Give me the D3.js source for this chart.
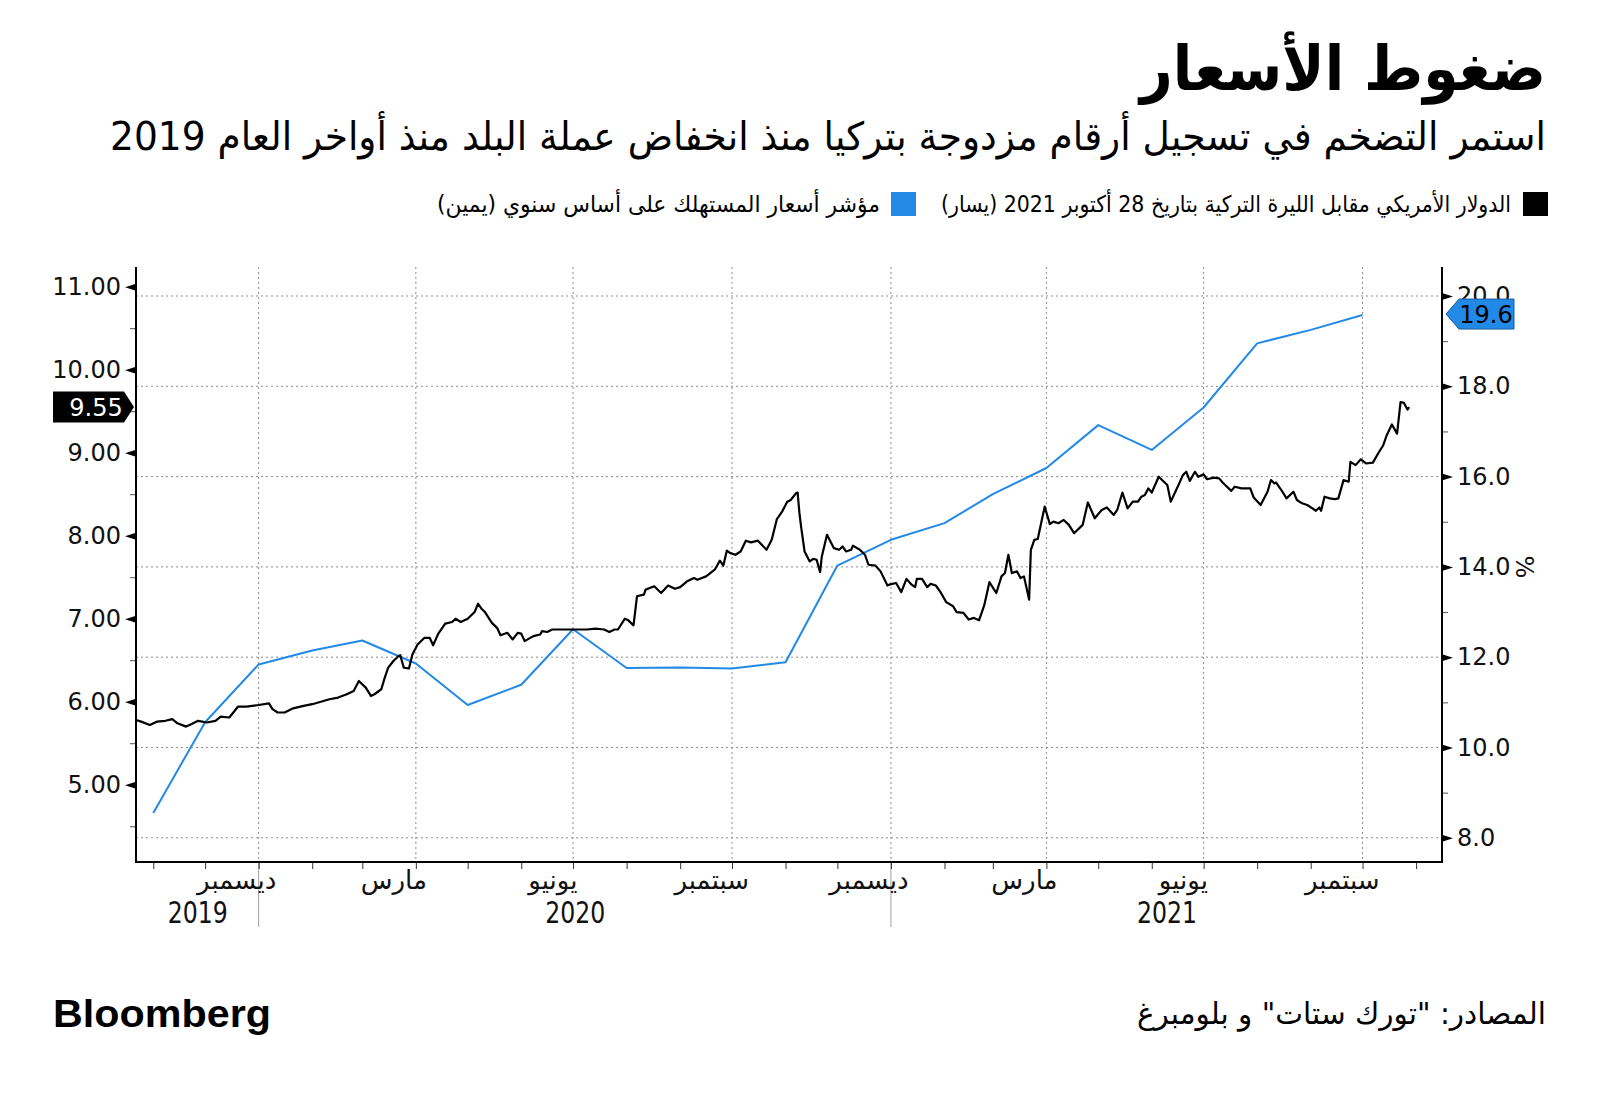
<!DOCTYPE html>
<html><head><meta charset="utf-8">
<script src="https://cdn.jsdelivr.net/npm/d3@7"></script>
<style>
body{margin:0;background:#fff}
svg{display:block}
.ar{font-family:"DejaVu Sans",sans-serif;direction:rtl}
.num{font-family:"DejaVu Sans",sans-serif}
</style>
</head><body>
<svg id="chart" width="1600" height="1094"></svg>
<script>
// ---------- DATA ----------
const titleText = "ضغوط الأسعار";
const subtitleText = "استمر التضخم في تسجيل أرقام مزدوجة بتركيا منذ انخفاض عملة البلد منذ أواخر العام 2019";
const legendLabels = ["الدولار الأمريكي مقابل الليرة التركية بتاريخ 28 أكتوبر 2021 (يسار)", "مؤشر أسعار المستهلك على أساس سنوي (يمين)"];
const sourceText = "المصادر: \"تورك ستات\" و بلومبرغ";
const brandText = "Bloomberg";

const leftTicks = [5, 6, 7, 8, 9, 10, 11];
const leftMinorTicks = [4.5, 5.5, 6.5, 7.5, 8.5, 9.5, 10.5];
const rightTicks = [8, 10, 12, 14, 16, 18, 20];
const rightMinorTicks = [9, 11, 13, 15, 17, 19];
const monthNames = {11: "ديسمبر", 2: "مارس", 5: "يونيو", 8: "سبتمبر"};
const yearLabels = ["2019", "2020", "2021"];
const unitLabel = "%";

// Turkey CPI YoY (%), by month of data
const cpiMonths = ["2019-10","2019-11","2019-12","2020-01","2020-02","2020-03","2020-04","2020-05","2020-06","2020-07","2020-08","2020-09","2020-10","2020-11","2020-12","2021-01","2021-02","2021-03","2021-04","2021-05","2021-06","2021-07","2021-08","2021-09"];
const cpiValues = [8.55,10.56,11.84,12.15,12.37,11.86,10.94,11.39,12.62,11.76,11.77,11.75,11.89,14.03,14.60,14.97,15.61,16.19,17.14,16.59,17.53,18.95,19.25,19.58];
const cpiLast = 19.6;

// USD/TRY
const usdTry2019 = [["2019-10-22",5.78],["2019-10-25",5.76],["2019-10-30",5.72],["2019-11-03",5.76],["2019-11-08",5.77],["2019-11-12",5.79],["2019-11-15",5.74],["2019-11-20",5.70],["2019-11-22",5.72],["2019-11-27",5.77],["2019-12-02",5.75],["2019-12-07",5.77],["2019-12-10",5.82],["2019-12-15",5.81],["2019-12-20",5.94],["2019-12-25",5.94]];
const usdTry2020 = [["2020-01-01",5.96],["2020-01-07",5.98],["2020-01-09",5.91],["2020-01-12",5.87],["2020-01-16",5.87],["2020-01-21",5.92],["2020-01-27",5.95],["2020-02-01",5.97],["2020-02-06",6.00],["2020-02-11",6.03],["2020-02-16",6.05],["2020-02-21",6.09],["2020-02-25",6.13],["2020-02-28",6.25],["2020-03-03",6.17],["2020-03-06",6.07],["2020-03-08",6.09],["2020-03-12",6.15],["2020-03-14",6.29],["2020-03-16",6.41],["2020-03-19",6.49],["2020-03-22",6.55],["2020-03-23",6.56],["2020-03-25",6.41],["2020-03-28",6.40],["2020-03-30",6.57],["2020-04-02",6.69],["2020-04-06",6.77],["2020-04-09",6.77],["2020-04-11",6.68],["2020-04-14",6.82],["2020-04-18",6.94],["2020-04-22",6.96],["2020-04-24",7.00],["2020-04-27",6.96],["2020-05-01",7.00],["2020-05-05",7.08],["2020-05-07",7.18],["2020-05-09",7.12],["2020-05-11",7.08],["2020-05-15",6.95],["2020-05-18",6.89],["2020-05-20",6.80],["2020-05-24",6.83],["2020-05-27",6.75],["2020-05-30",6.83],["2020-06-01",6.82],["2020-06-03",6.73],["2020-06-08",6.79],["2020-06-12",6.81],["2020-06-13",6.85],["2020-06-16",6.84],["2020-06-19",6.87],["2020-06-23",6.87],["2020-07-01",6.87],["2020-07-09",6.87],["2020-07-14",6.88],["2020-07-19",6.87],["2020-07-22",6.84],["2020-07-25",6.87],["2020-07-27",6.87],["2020-07-31",7.00],["2020-08-02",6.98],["2020-08-05",6.92],["2020-08-07",7.27],["2020-08-11",7.29],["2020-08-12",7.35],["2020-08-17",7.39],["2020-08-21",7.31],["2020-08-25",7.40],["2020-08-29",7.36],["2020-09-01",7.38],["2020-09-05",7.45],["2020-09-09",7.49],["2020-09-11",7.47],["2020-09-16",7.51],["2020-09-21",7.59],["2020-09-24",7.70],["2020-09-26",7.64],["2020-09-28",7.82],["2020-09-30",7.79],["2020-10-03",7.77],["2020-10-06",7.81],["2020-10-09",7.94],["2020-10-12",7.92],["2020-10-16",7.94],["2020-10-21",7.83],["2020-10-24",7.95],["2020-10-27",8.20],["2020-10-30",8.29],["2020-11-02",8.41],["2020-11-04",8.43],["2020-11-07",8.51],["2020-11-08",8.52],["2020-11-09",8.28],["2020-11-10",8.11],["2020-11-12",7.81],["2020-11-15",7.69],["2020-11-17",7.72],["2020-11-19",7.71],["2020-11-21",7.56],["2020-11-22",7.75],["2020-11-25",8.01],["2020-11-29",7.85],["2020-12-02",7.83],["2020-12-04",7.87],["2020-12-06",7.81],["2020-12-09",7.83],["2020-12-10",7.88],["2020-12-14",7.83],["2020-12-17",7.77],["2020-12-19",7.65],["2020-12-23",7.64],["2020-12-26",7.57],["2020-12-30",7.40],["2020-12-31",7.41]];
const usdTry2021 = [["2021-01-04",7.43],["2021-01-07",7.32],["2021-01-10",7.48],["2021-01-13",7.41],["2021-01-15",7.38],["2021-01-16",7.48],["2021-01-19",7.48],["2021-01-22",7.38],["2021-01-24",7.42],["2021-01-27",7.40],["2021-01-30",7.31],["2021-02-02",7.20],["2021-02-06",7.15],["2021-02-08",7.08],["2021-02-12",7.07],["2021-02-15",6.99],["2021-02-18",7.01],["2021-02-21",6.98],["2021-02-24",7.16],["2021-02-27",7.44],["2021-03-03",7.31],["2021-03-06",7.51],["2021-03-08",7.55],["2021-03-10",7.77],["2021-03-12",7.55],["2021-03-15",7.57],["2021-03-17",7.49],["2021-03-19",7.51],["2021-03-22",7.23],["2021-03-23",7.83],["2021-03-25",7.95],["2021-03-27",7.96],["2021-03-31",8.35],["2021-04-03",8.14],["2021-04-05",8.17],["2021-04-08",8.15],["2021-04-11",8.19],["2021-04-14",8.13],["2021-04-17",8.03],["2021-04-22",8.13],["2021-04-25",8.40],["2021-04-29",8.21],["2021-05-03",8.31],["2021-05-06",8.34],["2021-05-10",8.25],["2021-05-12",8.31],["2021-05-15",8.52],["2021-05-18",8.33],["2021-05-21",8.41],["2021-05-24",8.41],["2021-05-26",8.47],["2021-05-28",8.49],["2021-05-30",8.57],["2021-06-01",8.52],["2021-06-05",8.71],["2021-06-10",8.61],["2021-06-12",8.41],["2021-06-16",8.59],["2021-06-19",8.73],["2021-06-21",8.77],["2021-06-23",8.66],["2021-06-26",8.77],["2021-06-28",8.71],["2021-07-01",8.74],["2021-07-03",8.68],["2021-07-07",8.70],["2021-07-10",8.69],["2021-07-12",8.64],["2021-07-17",8.54],["2021-07-19",8.59],["2021-07-23",8.57],["2021-07-28",8.57],["2021-07-30",8.46],["2021-08-03",8.37],["2021-08-07",8.53],["2021-08-09",8.67],["2021-08-11",8.63],["2021-08-12",8.64],["2021-08-15",8.55],["2021-08-18",8.45],["2021-08-22",8.53],["2021-08-24",8.43],["2021-08-27",8.39],["2021-08-30",8.37],["2021-09-02",8.33],["2021-09-04",8.30],["2021-09-06",8.34],["2021-09-07",8.30],["2021-09-09",8.47],["2021-09-12",8.45],["2021-09-15",8.44],["2021-09-17",8.45],["2021-09-20",8.67],["2021-09-23",8.65],["2021-09-24",8.89],["2021-09-27",8.85],["2021-09-30",8.92],["2021-10-03",8.87],["2021-10-07",8.88],["2021-10-10",8.99],["2021-10-13",9.09],["2021-10-15",9.21],["2021-10-18",9.34],["2021-10-21",9.23],["2021-10-23",9.61],["2021-10-25",9.60],["2021-10-27",9.52],["2021-10-28",9.55]];
const usdTryLast = 9.55;

// ---------- CHART ----------
const parseDay = d3.timeParse("%Y-%m-%d");
const parseMonth = d3.timeParse("%Y-%m");
const fx = usdTry2019.concat(usdTry2020, usdTry2021).map(([d, v]) => ({date: parseDay(d), value: v}));
const cpi = cpiMonths.map((m, i) => ({date: d3.timeMonth.offset(parseMonth(m), 1), value: cpiValues[i]}));

const L = 136, R = 1442, T = 267, B = 862;
const x = d3.scaleTime().domain([new Date(2019, 9, 22), new Date(2021, 10, 16)]).range([L, R]);
const yL = d3.scaleLinear().domain([4.069, 11.237]).range([B, T]);
const yR = d3.scaleLinear().domain([7.464, 20.642]).range([B, T]);

const svg = d3.select("#chart");
const BLUE = "#2389e6";

// Title / subtitle
svg.append("text").attr("class", "ar").attr("x", 1546).attr("y", 90)
  .attr("text-anchor", "start").attr("font-size", 62).attr("font-weight", "bold")
  .attr("textLength", 406).attr("lengthAdjust", "spacingAndGlyphs").attr("fill", "#000").text(titleText);
svg.append("text").attr("class", "ar").attr("x", 1546).attr("y", 150)
  .attr("text-anchor", "start").attr("font-size", 39)
  .attr("textLength", 1436).attr("lengthAdjust", "spacingAndGlyphs").attr("fill", "#000").text(subtitleText);

// Legend
const legendItems = [
  {sq: 1523, tx: 1511, len: 570, color: "#000", label: legendLabels[0]},
  {sq: 891, tx: 880, len: 443, color: BLUE, label: legendLabels[1]}
];
legendItems.forEach(it => {
  svg.append("rect").attr("x", it.sq).attr("y", 192).attr("width", 25).attr("height", 24).attr("fill", it.color);
  svg.append("text").attr("class", "ar").attr("x", it.tx).attr("y", 212).attr("text-anchor", "start")
    .attr("font-size", 23).attr("textLength", it.len).attr("lengthAdjust", "spacingAndGlyphs")
    .attr("fill", "#000").text(it.label);
});

// Grid
const gGrid = svg.append("g");
gGrid.selectAll("line.h").data(rightTicks).join("line").attr("class", "h")
  .attr("x1", L).attr("x2", R).attr("y1", d => yR(d)).attr("y2", d => yR(d))
  .attr("stroke", "#8c8c8c").attr("stroke-width", 1).attr("stroke-dasharray", "2,3");
const quarterStarts = d3.timeMonth.range(x.domain()[0], x.domain()[1]).filter(d => d.getMonth() % 3 === 0);
gGrid.selectAll("line.v").data(quarterStarts).join("line").attr("class", "v")
  .attr("x1", d => x(d)).attr("x2", d => x(d)).attr("y1", T).attr("y2", B)
  .attr("stroke", "#8c8c8c").attr("stroke-width", 1).attr("stroke-dasharray", "2,3");
const yearStarts = d3.timeYear.range(x.domain()[0], x.domain()[1]);
gGrid.selectAll("line.y").data(yearStarts).join("line").attr("class", "y")
  .attr("x1", d => x(d)).attr("x2", d => x(d)).attr("y1", B).attr("y2", B + 65)
  .attr("stroke", "#a0a0a0").attr("stroke-width", 1);

// Lines
svg.append("path").datum(cpi).attr("fill", "none").attr("stroke", BLUE).attr("stroke-width", 2)
  .attr("stroke-linejoin", "round")
  .attr("d", d3.line().x(d => x(d.date)).y(d => yR(d.value)));
svg.append("path").datum(fx).attr("fill", "none").attr("stroke", "#000").attr("stroke-width", 2.2)
  .attr("stroke-linejoin", "round")
  .attr("d", d3.line().x(d => x(d.date)).y(d => yL(d.value)));

// Left axis
const axL = svg.append("g").attr("transform", `translate(${L},0)`)
  .call(d3.axisLeft(yL).tickValues(leftTicks).tickFormat(d3.format(".2f")).tickSize(0).tickPadding(15));
axL.select(".domain").remove();
axL.selectAll(".tick text").attr("font-family", "DejaVu Sans").attr("font-size", 24).attr("fill", "#111");
axL.selectAll(".tick").append("path").attr("d", "M0,-3.5L-11,0L0,3.5Z").attr("fill", "#000");
const axLm = svg.append("g").attr("transform", `translate(${L},0)`)
  .call(d3.axisLeft(yL).tickValues(leftMinorTicks).tickFormat("").tickSize(6));
axLm.select(".domain").remove();
axLm.selectAll(".tick line").attr("stroke", "#555");

// Right axis
const axR = svg.append("g").attr("transform", `translate(${R},0)`)
  .call(d3.axisRight(yR).tickValues(rightTicks).tickFormat(d3.format(".1f")).tickSize(0).tickPadding(15));
axR.select(".domain").remove();
axR.selectAll(".tick text").attr("font-family", "DejaVu Sans").attr("font-size", 24).attr("fill", "#111");
axR.selectAll(".tick").append("path").attr("d", "M0,-3.5L11,0L0,3.5Z").attr("fill", "#000");
const axRm = svg.append("g").attr("transform", `translate(${R},0)`)
  .call(d3.axisRight(yR).tickValues(rightMinorTicks).tickFormat("").tickSize(6));
axRm.select(".domain").remove();
axRm.selectAll(".tick line").attr("stroke", "#555");

// Bottom axis
const axB = svg.append("g").attr("transform", `translate(0,${B})`)
  .call(d3.axisBottom(x).ticks(d3.timeMonth.every(1)).tickFormat("").tickSize(7));
axB.select(".domain").remove();
axB.selectAll(".tick line").attr("stroke", "#333");

const labelMonths = d3.timeMonth.range(x.domain()[0], x.domain()[1])
  .filter(d => monthNames[d.getMonth()] !== undefined)
  .map(d => new Date(d.getFullYear(), d.getMonth(), 19));
const axBm = svg.append("g").attr("transform", `translate(0,${B})`)
  .call(d3.axisBottom(x).tickValues(labelMonths).tickFormat(d => monthNames[d.getMonth()]).tickSize(0).tickPadding(9));
axBm.select(".domain").remove();
axBm.selectAll(".tick text").attr("font-family", "DejaVu Sans").attr("font-size", 26).attr("fill", "#111");

const [d0, d1] = x.domain();
const yearCenters = yearLabels.map(yl => {
  const y = +yl;
  const a = d3.max([d0, new Date(y, 0, 1)]);
  const b = d3.min([d1, new Date(y + 1, 0, 1)]);
  return new Date((+a + +b) / 2);
});
const axBy = svg.append("g").attr("transform", `translate(0,${B})`)
  .call(d3.axisBottom(x).tickValues(yearCenters).tickFormat((d, i) => yearLabels[i]).tickSize(0).tickPadding(39));
axBy.select(".domain").remove();
axBy.selectAll(".tick text").attr("font-family", "'DejaVu Sans'")
  .attr("font-size", 31).attr("textLength", 60).attr("lengthAdjust", "spacingAndGlyphs").attr("fill", "#111");

// Axis frame lines
svg.append("line").attr("x1", L).attr("x2", L).attr("y1", T).attr("y2", B + 1).attr("stroke", "#000").attr("stroke-width", 2);
svg.append("line").attr("x1", R).attr("x2", R).attr("y1", T).attr("y2", B + 1).attr("stroke", "#000").attr("stroke-width", 2);
svg.append("line").attr("x1", L).attr("x2", R).attr("y1", B).attr("y2", B).attr("stroke", "#000").attr("stroke-width", 2);

// % unit
svg.append("text").attr("transform", `translate(1524,${yR(14)}) rotate(90)`).attr("text-anchor", "middle")
  .attr("dy", "0.35em").attr("font-family", "DejaVu Sans").attr("font-size", 24).attr("fill", "#111").text(unitLabel);

// Last value labels
const yl = yL(usdTryLast);
svg.append("path").attr("d", `M53,${yl - 15.5}H124L134,${yl}L124,${yl + 15.5}H53Z`).attr("fill", "#000");
svg.append("text").attr("x", 96).attr("y", yl).attr("dy", "0.36em").attr("text-anchor", "middle")
  .attr("font-family", "DejaVu Sans").attr("font-size", 24).attr("fill", "#fff").text(d3.format(".2f")(usdTryLast));
const yr = yR(cpiLast);
svg.append("path").attr("d", `M1446,${yr}L1459,${yr - 15}H1514V${yr + 15}H1459Z`)
  .attr("fill", BLUE).attr("stroke", "#1b5c9e").attr("stroke-width", 1);
svg.append("text").attr("x", 1486).attr("y", yr).attr("dy", "0.36em").attr("text-anchor", "middle")
  .attr("font-family", "DejaVu Sans").attr("font-size", 24).attr("fill", "#000").text(d3.format(".1f")(cpiLast));

// Footer
svg.append("text").attr("x", 53).attr("y", 1027).attr("font-family", "'Liberation Sans',Arial,sans-serif")
  .attr("font-weight", "bold").attr("font-size", 39).attr("textLength", 218).attr("lengthAdjust", "spacingAndGlyphs")
  .attr("fill", "#000").text(brandText);
svg.append("text").attr("class", "ar").attr("x", 1546).attr("y", 1024).attr("text-anchor", "start")
  .attr("font-size", 30).attr("textLength", 409).attr("lengthAdjust", "spacingAndGlyphs")
  .attr("fill", "#000").text(sourceText);
</script>
</body></html>
